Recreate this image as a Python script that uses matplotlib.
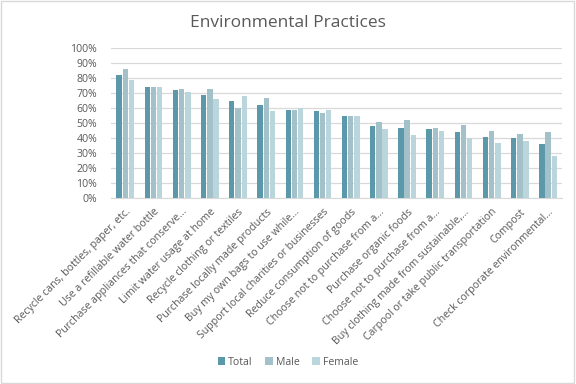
import numpy as np
import matplotlib.pyplot as plt
from matplotlib.patches import Rectangle
from matplotlib.ticker import PercentFormatter

plt.rcParams['font.family'] = ['Open Sans', 'DejaVu Sans']

categories = [
    "Recycle cans, bottles, paper, etc.",
    "Use a refillable water bottle",
    "Purchase appliances that conserve...",
    "Limit water usage at home",
    "Recycle clothing or textiles",
    "Purchase locally made products",
    "Buy my own bags to use while...",
    "Support local charities or businesses",
    "Reduce consumption of goods",
    "Choose not to purchase from a...",
    "Purchase organic foods",
    "Choose not to purchase from a...",
    "Buy clothing made from sustainable,...",
    "Carpool or take public transportation",
    "Compost",
    "Check corporate environmental...",
]
total = [82, 74, 72, 69, 65, 62, 59, 58, 55, 48, 47, 46, 44, 41, 40, 36]
male = [86, 74, 73, 73, 60, 67, 59, 57, 55, 51, 52, 47, 49, 45, 43, 44]
female = [79, 74, 71, 66, 68, 58, 60, 59, 55, 46, 42, 45, 40, 37, 38, 28]

colors = ["#5b98a9", "#a3c1c9", "#bad5db"]

fig = plt.figure(figsize=(5.76, 3.84), dpi=100)
ax = fig.add_axes([0.193, 0.484, 0.783, 0.39])

x = np.arange(len(categories))
w = 0.19
ax.bar(x - 0.22, total, w, color=colors[0], label="Total", zorder=3)
ax.bar(x, male, w, color=colors[1], label="Male", zorder=3)
ax.bar(x + 0.22, female, w, color=colors[2], label="Female", zorder=3)

ax.set_ylim(0, 100)
ax.set_yticks(range(0, 101, 10))
ax.yaxis.set_major_formatter(PercentFormatter(decimals=0))
ax.set_xlim(-0.5, len(categories) - 0.5)
ax.set_xticks(x)
ax.set_xticklabels(categories, rotation=45, ha="right", rotation_mode="anchor")
ax.tick_params(axis="both", length=0, labelsize=7.6, colors="#595959")
ax.tick_params(axis="y", pad=10)
ax.tick_params(axis="x", pad=6)
ax.grid(axis="y", color="#d9d9d9", linewidth=0.9, zorder=0)
for s in ["top", "right", "left"]:
    ax.spines[s].set_visible(False)
ax.spines["bottom"].set_color("#d9d9d9")

fig.text(0.5, 0.94, "Environmental Practices", ha="center", va="center",
         fontsize=12.5, color="#595959")

fig.legend(loc="center", bbox_to_anchor=(0.5, 0.057), ncol=3, frameon=False,
           fontsize=7.6, handlelength=0.7, handleheight=0.7, handletextpad=0.3,
           columnspacing=1.2, labelcolor="#595959")

fig.patches.append(Rectangle((0.002, 0.003), 0.995, 0.994, transform=fig.transFigure,
                             fill=False, edgecolor="#d9d9d9", linewidth=1))

fig.savefig("out.png", dpi=100)
